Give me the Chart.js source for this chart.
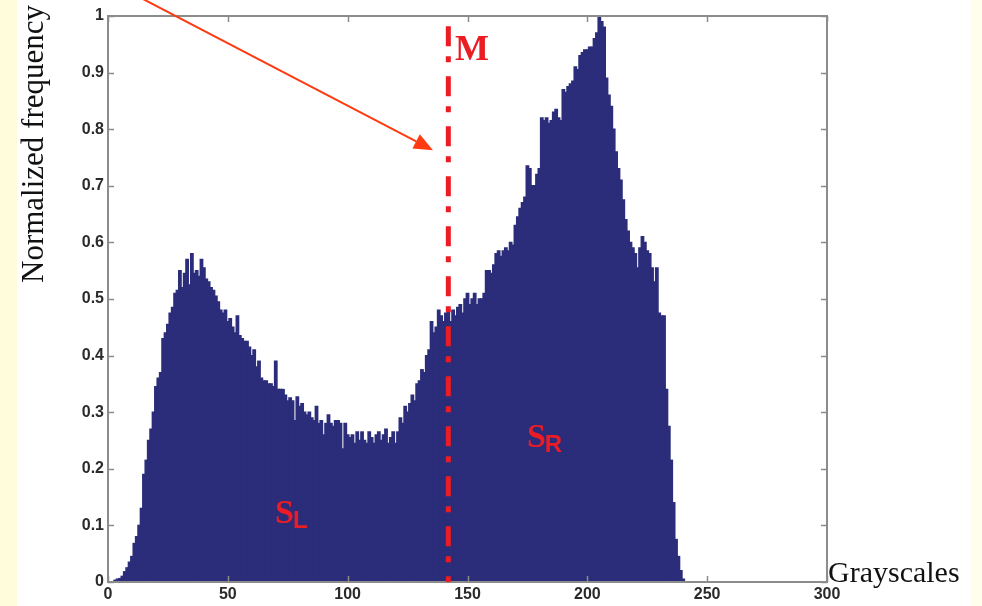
<!DOCTYPE html>
<html>
<head>
<meta charset="utf-8">
<script src="https://cdn.jsdelivr.net/npm/chart.js@4"></script>
<style>
  html, body { margin: 0; padding: 0; background: #ffffff; }
  #wrap { width: 982px; height: 606px; position: relative; }
  canvas { display: block; }
</style>
</head>
<body>
<div id="wrap"><canvas id="c" width="982" height="606"></canvas></div>
<script>
// ---- data ----
const grayLevels = Array.from({ length: 256 }, (_, i) => i);
const normFreq = [
  0, 0, 0, 0.003, 0.005, 0.006, 0.01, 0.018, 0.025, 0.035,
  0.045, 0.068, 0.08, 0.1, 0.13, 0.19, 0.215, 0.25, 0.27, 0.30,
  0.345, 0.36, 0.37, 0.43, 0.44, 0.455, 0.475, 0.485, 0.51, 0.515,
  0.55, 0.52, 0.545, 0.57, 0.525, 0.58, 0.545, 0.55, 0.54, 0.57,
  0.555, 0.535, 0.53, 0.52, 0.515, 0.505, 0.495, 0.48, 0.475, 0.48,
  0.46, 0.465, 0.45, 0.44, 0.47, 0.435, 0.43, 0.425, 0.425, 0.415,
  0.40, 0.41, 0.38, 0.39, 0.36, 0.355, 0.355, 0.35, 0.35, 0.345,
  0.39, 0.34, 0.34, 0.34, 0.33, 0.32, 0.325, 0.32, 0.285, 0.327,
  0.31, 0.315, 0.30, 0.295, 0.30, 0.29, 0.285, 0.31, 0.28, 0.285,
  0.26, 0.28, 0.295, 0.28, 0.275, 0.285, 0.285, 0.28, 0.235, 0.28,
  0.26, 0.255, 0.26, 0.245, 0.265, 0.25, 0.265, 0.25, 0.245, 0.265,
  0.255, 0.245, 0.26, 0.265, 0.25, 0.26, 0.27, 0.245, 0.255, 0.265,
  0.245, 0.265, 0.29, 0.28, 0.31, 0.30, 0.315, 0.33, 0.32, 0.35,
  0.355, 0.375, 0.37, 0.40, 0.41, 0.46, 0.44, 0.45, 0.48, 0.47,
  0.46, 0.475, 0.48, 0.46, 0.48, 0.47, 0.485, 0.49, 0.475, 0.50,
  0.51, 0.49, 0.50, 0.51, 0.49, 0.50, 0.50, 0.51, 0.55, 0.55,
  0.545, 0.56, 0.58, 0.585, 0.575, 0.585, 0.59, 0.585, 0.60, 0.595,
  0.63, 0.645, 0.66, 0.67, 0.68, 0.735, 0.73, 0.70, 0.70, 0.72,
  0.73, 0.82, 0.815, 0.82, 0.81, 0.815, 0.83, 0.835, 0.82, 0.815,
  0.87, 0.865, 0.875, 0.88, 0.885, 0.91, 0.905, 0.93, 0.935, 0.94,
  0.94, 0.945, 0.945, 0.96, 0.97, 1.0, 0.99, 0.98, 0.89, 0.86,
  0.84, 0.80, 0.76, 0.73, 0.71, 0.675, 0.64, 0.62, 0.60, 0.59,
  0.58, 0.555, 0.59, 0.61, 0.60, 0.585, 0.58, 0.555, 0.53, 0.555,
  0.475, 0.47, 0.47, 0.34, 0.275, 0.215, 0.14, 0.075, 0.045, 0.02,
  0.005, 0, 0, 0, 0, 0, 0, 0, 0, 0,
  0, 0, 0, 0, 0, 0
];
const xTickValues = [0, 50, 100, 150, 200, 250, 300];
const yTickValues = [0, 0.1, 0.2, 0.3, 0.4, 0.5, 0.6, 0.7, 0.8, 0.9, 1];
const thresholdM = 142;          // grayscale of line M
const thresholdTop = 0.982;      // top of line M
const yAxisTitle = 'Normalized frequency';
const xAxisTitle = 'Grayscales';
const arrowFrom = { x: 14.6, y: 1.03 };
const arrowTo = { x: 135.6, y: 0.763 };
const labelM = { text: 'M', x: 144.8, y: 0.922 };
const labelSL = { main: 'S', sub: 'L', x: 69.7, y: 0.104 };
const labelSR = { main: 'S', sub: 'R', x: 174.8, y: 0.2385 };

const RED = '#EC1C24';
const BAR = '#2B2D7A';
const AXIS = '#8C8C8C';

const decor = {
  id: 'decor',
  beforeDraw(chart) {
    const ctx = chart.ctx;
    ctx.save();
    ctx.fillStyle = '#ffffff';
    ctx.fillRect(0, 0, chart.width, chart.height);
    ctx.restore();
  },
  afterDatasetsDraw(chart) {
    const ctx = chart.ctx;
    const xs = chart.scales.x, ys = chart.scales.y;
    const a = chart.chartArea;
    ctx.save();
    // frame
    ctx.strokeStyle = AXIS;
    ctx.lineWidth = 2;
    ctx.strokeRect(a.left, a.top, a.right - a.left, a.bottom - a.top);
    ctx.lineWidth = 1.5;
    ctx.beginPath();
    xs.ticks.forEach(t => {
      const px = Math.round(xs.getPixelForValue(t.value)) + 0.5;
      ctx.moveTo(px, a.bottom); ctx.lineTo(px, a.bottom - 6);
      ctx.moveTo(px, a.top); ctx.lineTo(px, a.top + 6);
    });
    ys.ticks.forEach(t => {
      const py = Math.round(ys.getPixelForValue(t.value)) + 0.5;
      ctx.moveTo(a.left, py); ctx.lineTo(a.left + 6, py);
      ctx.moveTo(a.right, py); ctx.lineTo(a.right - 6, py);
    });
    ctx.stroke();

    // threshold line M
    const mx = xs.getPixelForValue(thresholdM);
    ctx.strokeStyle = RED;
    ctx.lineWidth = 5;
    ctx.setLineDash([20, 10, 6, 14]);
    ctx.beginPath();
    ctx.moveTo(mx, ys.getPixelForValue(thresholdTop));
    ctx.lineTo(mx, ys.getPixelForValue(0));
    ctx.stroke();
    ctx.setLineDash([]);

    // labels
    ctx.fillStyle = RED;
    ctx.textBaseline = 'alphabetic';
    ctx.textAlign = 'left';
    ctx.font = 'bold 36px "Liberation Serif", "Times New Roman", serif';
    ctx.fillText(labelM.text, xs.getPixelForValue(labelM.x), ys.getPixelForValue(labelM.y));
    [labelSL, labelSR].forEach(l => {
      const px = xs.getPixelForValue(l.x), py = ys.getPixelForValue(l.y);
      ctx.font = 'bold 34px "Liberation Serif", "Times New Roman", serif';
      ctx.fillText(l.main, px, py);
      const w = ctx.measureText(l.main).width;
      ctx.font = 'bold 24px "Liberation Sans", Arial, sans-serif';
      ctx.fillText(l.sub, px + w - 1, py + 5);
    });

    // arrow
    const x1 = xs.getPixelForValue(arrowFrom.x), y1 = ys.getPixelForValue(arrowFrom.y);
    const x2 = xs.getPixelForValue(arrowTo.x), y2 = ys.getPixelForValue(arrowTo.y);
    const ang = Math.atan2(y2 - y1, x2 - x1);
    const hl = 19, hw = 8;
    ctx.strokeStyle = '#FF3A10';
    ctx.fillStyle = '#FF3A10';
    ctx.lineWidth = 2;
    ctx.beginPath();
    ctx.moveTo(x1, y1);
    ctx.lineTo(x2 - hl * Math.cos(ang), y2 - hl * Math.sin(ang));
    ctx.stroke();
    ctx.beginPath();
    ctx.moveTo(x2, y2);
    ctx.lineTo(x2 - hl * Math.cos(ang) + hw * Math.sin(ang), y2 - hl * Math.sin(ang) - hw * Math.cos(ang));
    ctx.lineTo(x2 - hl * Math.cos(ang) - hw * Math.sin(ang), y2 - hl * Math.sin(ang) + hw * Math.cos(ang));
    ctx.closePath();
    ctx.fill();

    // axis titles
    ctx.fillStyle = '#111111';
    ctx.font = '30px "Liberation Serif", "Times New Roman", serif';
    ctx.textAlign = 'left';
    ctx.fillText(xAxisTitle, a.right + 1, a.bottom);
    ctx.save();
    ctx.translate(43, 283);
    ctx.rotate(-Math.PI / 2);
    ctx.font = '31px "Liberation Serif", "Times New Roman", serif';
    ctx.fillText(yAxisTitle, 0, 0);
    ctx.restore();

    // side bands
    ctx.fillStyle = '#FFFCDC';
    ctx.fillRect(0, 0, 17, chart.height);
    ctx.fillStyle = '#FFFEEC';
    ctx.fillRect(971, 0, chart.width - 971, chart.height);
    ctx.restore();
  }
};

new Chart(document.getElementById('c'), {
  type: 'bar',
  data: {
    datasets: [{
      data: normFreq.map((v, i) => ({ x: grayLevels[i], y: v })),
      backgroundColor: BAR,
      borderWidth: 0,
      inflateAmount: 0.7,
      barPercentage: 1,
      categoryPercentage: 1
    }]
  },
  options: {
    responsive: false,
    animation: false,
    layout: { padding: { left: 0, top: 16, right: 155, bottom: 0 } },
    plugins: { legend: { display: false }, tooltip: { enabled: false } },
    scales: {
      x: {
        type: 'linear',
        offset: false,
        min: 0, max: 300,
        afterBuildTicks: s => { s.ticks = xTickValues.map(v => ({ value: v })); },
        afterFit: s => { s.height = 24; },
        grid: { display: false, drawTicks: false, offset: false },
        border: { display: false },
        ticks: {
          padding: 3,
          color: '#2a2a2a',
          font: { family: '"Liberation Sans", Arial, sans-serif', size: 16, weight: 'bold' },
          callback: v => String(v)
        }
      },
      y: {
        min: 0, max: 1,
        afterBuildTicks: s => { s.ticks = yTickValues.map(v => ({ value: v })); },
        afterFit: s => { s.width = 108; },
        grid: { display: false, drawTicks: false },
        border: { display: false },
        ticks: {
          padding: 4,
          color: '#2a2a2a',
          font: { family: '"Liberation Sans", Arial, sans-serif', size: 16, weight: 'bold' },
          callback: v => { const s = Number(v).toFixed(1); return s.endsWith('.0') ? s.slice(0, -2) : s; }
        }
      }
    }
  },
  plugins: [decor]
});
</script>
</body>
</html>
